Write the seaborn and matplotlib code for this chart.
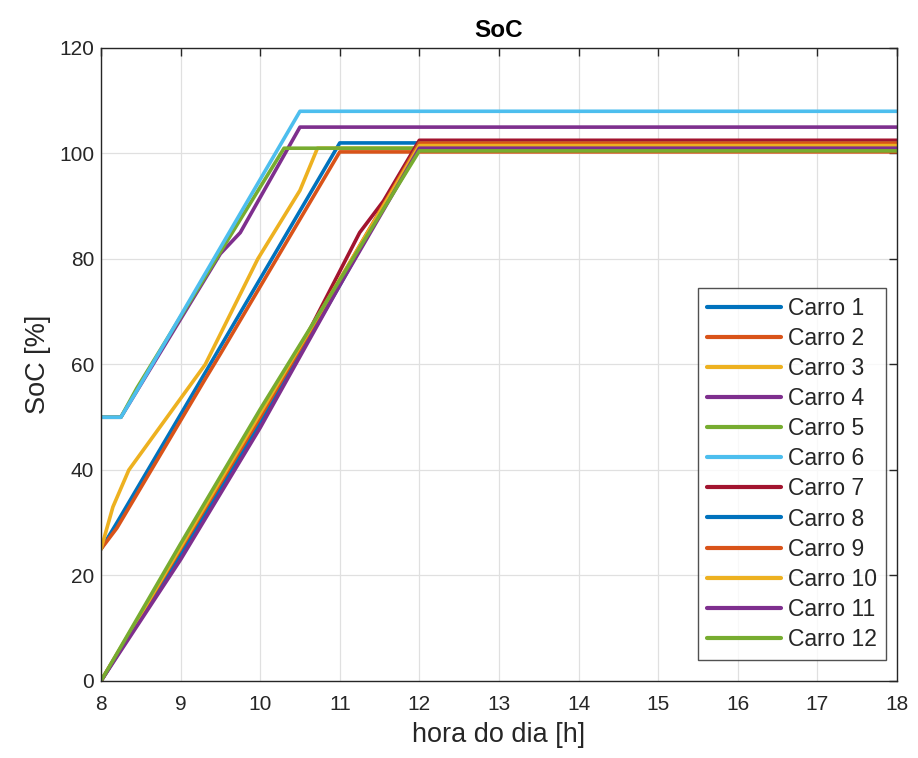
import pandas as pd
import numpy as np
import matplotlib
matplotlib.use("Agg")
import matplotlib.pyplot as plt
import seaborn as sns

# SoC of each car along the day (hours, %)
hours_carro1 = [8, 8.2, 9.37, 11, 18]
soc_carro1 = [25, 30, 60, 102, 102]
hours_carro2 = [8, 8.2, 9.3, 9.5, 11, 18]
soc_carro2 = [25, 29, 57, 62, 100.3, 100.3]
hours_carro3 = [8, 8.15, 8.35, 9.31, 9.97, 10.5, 10.72, 18]
soc_carro3 = [25, 33, 40, 60, 80, 93, 101, 101]
hours_carro4 = [8, 8.25, 9.5, 9.75, 10.5, 18]
soc_carro4 = [50, 50, 81, 85, 105, 105]
hours_carro5 = [8, 8.25, 8.45, 10.3, 18]
soc_carro5 = [50, 50, 55.5, 101, 101]
hours_carro6 = [8, 8.25, 8.45, 10.5, 18]
soc_carro6 = [50, 50, 55, 108, 108]
hours_carro7 = [8, 10, 10.5, 11.25, 11.55, 12, 18]
soc_carro7 = [0, 50, 63, 85, 91, 102.5, 102.5]
hours_carro8 = [8, 9, 10, 11, 12, 18]
soc_carro8 = [0, 24, 49, 75, 102, 102]
hours_carro9 = [8, 9, 10, 11, 12, 18]
soc_carro9 = [0, 25, 50, 76, 102, 102]
hours_carro10 = [8, 12, 18]
soc_carro10 = [0, 101.5, 101.5]
hours_carro11 = [8, 9, 10, 11, 12, 18]
soc_carro11 = [0, 23, 48, 75, 101, 101]
hours_carro12 = [8, 9, 10, 11, 12, 18]
soc_carro12 = [0, 26, 51.5, 76, 100.5, 100.5]

hours = [hours_carro1, hours_carro2, hours_carro3, hours_carro4, hours_carro5, hours_carro6,
         hours_carro7, hours_carro8, hours_carro9, hours_carro10, hours_carro11, hours_carro12]
socs = [soc_carro1, soc_carro2, soc_carro3, soc_carro4, soc_carro5, soc_carro6,
        soc_carro7, soc_carro8, soc_carro9, soc_carro10, soc_carro11, soc_carro12]
names = [f'Carro {i}' for i in range(1, 13)]

# MATLAB default line colours, repeated
matlab = ['#0072BD', '#D95319', '#EDB120', '#7E2F8E', '#77AC30', '#4DBEEE', '#A2142F']
palette = {n: matlab[i % 7] for i, n in enumerate(names)}

df = pd.concat([pd.DataFrame({'hora': h, 'soc': s, 'carro': n})
                for h, s, n in zip(hours, socs, names)], ignore_index=True)

sns.set_style('white')
plt.rcParams['font.family'] = ['Liberation Sans', 'DejaVu Sans']

fig = plt.figure(figsize=(9.18, 7.58), dpi=100)
ax = fig.add_axes([0.110, 0.1016, 0.867, 0.8351])

sns.lineplot(data=df, x='hora', y='soc', hue='carro', palette=palette,
             estimator=None, sort=False, linewidth=2.6, ax=ax)

ax.set_xlim(8, 18)
ax.set_ylim(0, 120)
ax.set_xticks(range(8, 19))
ax.set_yticks(range(0, 121, 20))
ax.grid(True, color='#e0e0e0', linewidth=0.9)
ax.tick_params(direction='in', length=6, width=1, colors='#262626',
               labelsize=15, top=True, right=True)
ax.tick_params(axis='x', pad=10)
ax.tick_params(axis='y', pad=5)
for sp in ax.spines.values():
    sp.set_color('#262626')
    sp.set_linewidth(1)
ax.set_xlabel('hora do dia [h]', fontsize=19.5, color='#262626', labelpad=6)
ax.set_ylabel('SoC [%]', fontsize=19.5, color='#262626', labelpad=6)
ax.set_title('SoC', fontsize=17.5, fontweight='bold', color='black', pad=8)

leg = ax.legend(loc='lower right', bbox_to_anchor=(0.986, 0.033), borderaxespad=0,
                fontsize=16.5, handlelength=3.2, handletextpad=0.3, labelspacing=0.31,
                borderpad=0.4, frameon=True, fancybox=False, edgecolor='#262626')
leg.get_frame().set_linewidth(1)
for line in leg.get_lines():
    line.set_linewidth(3)

fig.savefig('out.png', dpi=100)
